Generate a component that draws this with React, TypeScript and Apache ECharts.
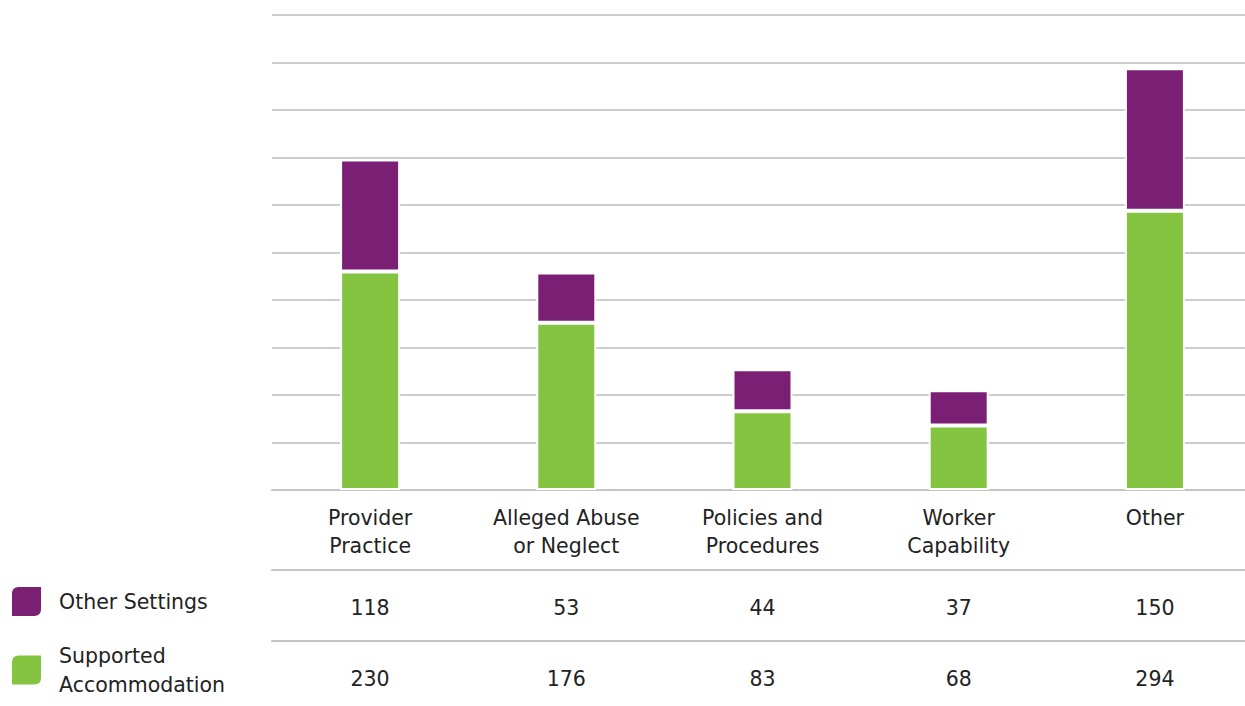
import React, { useEffect, useRef } from "react";
import * as echarts from "echarts";

const categories = [
  "Provider\nPractice",
  "Alleged Abuse\nor Neglect",
  "Policies and\nProcedures",
  "Worker\nCapability",
  "Other",
];
const seriesNames = ["Other Settings", "Supported Accommodation"];
const otherSettings = [118, 53, 44, 37, 150];
const supportedAccommodation = [230, 176, 83, 68, 294];

const PURPLE = "#7A1F74";
const GREEN = "#84C441";
const FONT = "DejaVu Sans";
const FS = 20.5;
const leafIcon =
  "path://M8,0 L32,0 L32,24 Q32,32 24,32 L0,32 L0,8 Q0,0 8,0 Z";

export default function App() {
  const ref = useRef<HTMLDivElement>(null);
  useEffect(() => {
    if (!ref.current) return;
    const chart = echarts.init(ref.current, null, { renderer: "svg" });
    const tableAxis = (values: number[], offset: number) => ({
      type: "category",
      data: values.map(String),
      position: "bottom",
      offset,
      gridIndex: 0,
      axisLine: { show: true, lineStyle: { color: "#c4c4c4", width: 2 } },
      axisTick: { show: false },
      axisLabel: {
        margin: 27,
        fontSize: FS,
        color: "#222",
        fontFamily: FONT,
      },
      splitLine: { show: false },
    });
    const legendText = {
      fontSize: FS,
      lineHeight: 29,
      color: "#222",
      fontFamily: FONT,
      padding: [0, 0, 0, 12],
    };
    chart.setOption({
      animation: false,
      textStyle: { fontFamily: FONT },
      grid: { left: 272, right: 0, top: 15, bottom: 216, containLabel: false },
      legend: [
        {
          orient: "vertical",
          left: 10,
          top: 585,
          padding: 0,
          itemWidth: 31,
          itemHeight: 31,
          icon: leafIcon,
          data: [{ name: seriesNames[0], itemStyle: { color: PURPLE } }],
          textStyle: legendText,
        },
        {
          orient: "vertical",
          left: 10,
          top: 641,
          padding: 0,
          itemWidth: 31,
          itemHeight: 31,
          icon: leafIcon,
          data: [{ name: seriesNames[1], itemStyle: { color: GREEN } }],
          formatter: () => "Supported\nAccommodation",
          textStyle: legendText,
        },
      ],
      xAxis: [
        {
          type: "category",
          data: categories,
          axisLine: { show: true, lineStyle: { color: "#c4c4c4", width: 2 } },
          axisTick: { show: false },
          axisLabel: {
            margin: 14,
            fontSize: FS,
            lineHeight: 28,
            color: "#222",
            fontFamily: FONT,
          },
        },
        tableAxis(otherSettings, 80),
        tableAxis(supportedAccommodation, 151),
      ],
      yAxis: {
        type: "value",
        min: 0,
        max: 500,
        interval: 50,
        axisLabel: { show: false },
        axisLine: { show: false },
        axisTick: { show: false },
        splitLine: { lineStyle: { color: "#bdbdbd", width: 1.5 } },
      },
      series: [
        {
          name: seriesNames[1],
          type: "bar",
          stack: "total",
          data: supportedAccommodation,
          barWidth: 60,
          itemStyle: { color: GREEN, borderColor: "#fff", borderWidth: 2 },
        },
        {
          name: seriesNames[0],
          type: "bar",
          stack: "total",
          data: otherSettings,
          barWidth: 60,
          itemStyle: { color: PURPLE, borderColor: "#fff", borderWidth: 2 },
        },
      ],
    });
    return () => chart.dispose();
  }, []);
  return (
    <div
      style={{
        position: "absolute",
        left: 0,
        top: 0,
        width: 1245,
        height: 706,
        overflow: "hidden",
      }}
    >
      <div ref={ref} style={{ width: 1253, height: 706 }} />
    </div>
  );
}
